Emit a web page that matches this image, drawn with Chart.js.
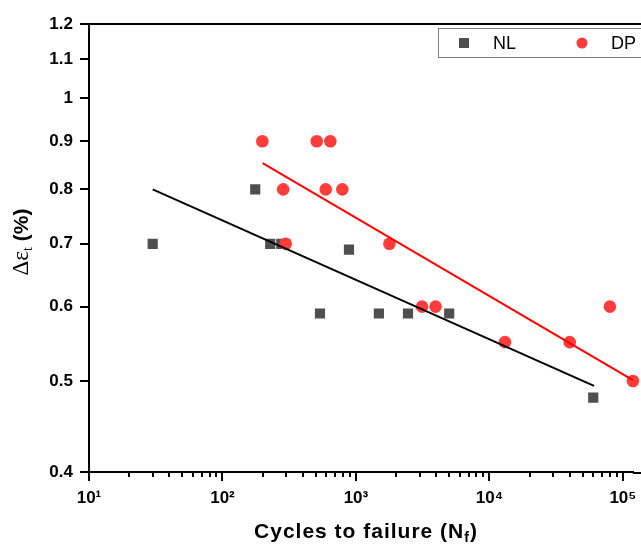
<!DOCTYPE html>
<html>
<head>
<meta charset="utf-8">
<script src="https://cdn.jsdelivr.net/npm/chart.js@4.4.0/dist/chart.umd.min.js"></script>
<style>
  html, body { margin: 0; padding: 0; background: #fff; }
  canvas { display: block; }
</style>
</head>
<body>
<canvas id="fatigueCanvas" width="641" height="545"></canvas>
<script>
// 資料 (讀自圖片)
const nlCycles = [30, 176, 228, 276, 538, 887, 1486, 2456, 5000, 60000];
const nlStrain = [0.70, 0.80, 0.70, 0.70, 0.59, 0.69, 0.59, 0.59, 0.59, 0.48];
const dpCycles = [199, 285, 298, 509, 594, 643, 791, 1783, 3128, 3953, 13090, 40000, 80000, 119000];
const dpStrain = [0.90, 0.80, 0.70, 0.90, 0.80, 0.90, 0.80, 0.70, 0.60, 0.60, 0.55, 0.55, 0.60, 0.50];

// 擬合直線的兩端點
const nlFitCycles = [30, 60800];
const nlFitStrain = [0.80, 0.494];
const dpFitCycles = [200, 119000];
const dpFitStrain = [0.853, 0.501];

// 刻度
const xMajorTicks = [10, 100, 1000, 10000, 100000];
const xTickLabels = ['10\u00B9', '10\u00B2', '10\u00B3', '10\u2074', '10\u2075'];
const yTickValues = [0.4, 0.5, 0.6, 0.7, 0.8, 0.9, 1.0, 1.1, 1.2];
const yTickLabels = ['0.4', '0.5', '0.6', '0.7', '0.8', '0.9', '1', '1.1', '1.2'];

const seriesNames = ['NL', 'DP'];
const nlColor = '#4f4f4f';
const dpColor = '#ff3c3c';

const toPoints = (xs, ys) => xs.map((x, i) => ({ x: x, y: ys[i] }));

// 次刻度 2..9 x 10^n
const xMinorTicks = [];
xMajorTicks.slice(0, -1).forEach(d => {
  for (let k = 2; k <= 9; k++) xMinorTicks.push(d * k);
});

// 坐標軸刻度線、上框線、軸標題、圖例
const decorPlugin = {
  id: 'decor',
  afterDraw(chart) {
    const ctx = chart.ctx;
    const area = chart.chartArea;
    const xs = chart.scales.x;
    const ys = chart.scales.y;
    ctx.save();
    ctx.strokeStyle = '#000';
    ctx.lineWidth = 2;
    ctx.beginPath();
    xs.ticks.forEach(t => {
      const px = Math.round(xs.getPixelForValue(t.value));
      const len = xMajorTicks.includes(t.value) ? 9 : 5;
      ctx.moveTo(px, area.bottom);
      ctx.lineTo(px, area.bottom + len);
    });
    ys.ticks.forEach(t => {
      const py = Math.round(ys.getPixelForValue(t.value));
      ctx.moveTo(area.left, py);
      ctx.lineTo(area.left - 9, py);
    });
    // 上框線，x 軸延伸到畫布邊緣
    ctx.moveTo(area.left - 1, area.top);
    ctx.lineTo(chart.width, area.top);
    ctx.moveTo(area.right - 1, area.bottom + 1);
    ctx.lineTo(chart.width, area.bottom + 1);
    ctx.stroke();

    // x 軸標題
    ctx.fillStyle = '#000';
    ctx.textBaseline = 'alphabetic';
    ctx.textAlign = 'left';
    const mainFont = 'bold 21px "Liberation Sans", Arial, sans-serif';
    const subFont = 'bold 14px "Liberation Sans", Arial, sans-serif';
    ctx.letterSpacing = '1px';
    ctx.font = mainFont;
    const p1 = 'Cycles to failure (N';
    const w1 = ctx.measureText(p1).width;
    const w3 = ctx.measureText(')').width;
    ctx.font = subFont;
    const w2 = ctx.measureText('f').width;
    let x0 = 366 - (w1 + w2 + w3) / 2;
    const by = 538;
    ctx.font = mainFont;
    ctx.fillText(p1, x0, by);
    ctx.font = subFont;
    ctx.fillText('f', x0 + w1, by + 4);
    ctx.font = mainFont;
    ctx.fillText(')', x0 + w1 + w2, by);
    ctx.letterSpacing = '0px';

    // y 軸標題
    ctx.save();
    ctx.translate(28, 242);
    ctx.rotate(-Math.PI / 2);
    const serif = '23px "Liberation Serif", "Times New Roman", serif';
    const serifSub = '14px "Liberation Serif", "Times New Roman", serif';
    ctx.font = serif;
    const a1 = ctx.measureText('\u0394\u03B5').width;
    ctx.font = serifSub;
    const a2 = ctx.measureText('t').width;
    ctx.font = mainFont;
    const a3 = ctx.measureText(' (%)').width;
    let sx = -(a1 + a2 + a3) / 2;
    ctx.font = serif;
    ctx.fillText('\u0394\u03B5', sx, 0);
    ctx.font = serifSub;
    ctx.fillText('t', sx + a1, 4);
    ctx.font = mainFont;
    ctx.fillText(' (%)', sx + a1 + a2, 0);
    ctx.restore();

    // 圖例
    ctx.lineWidth = 1;
    ctx.strokeStyle = '#7f7f7f';
    ctx.fillStyle = '#fff';
    ctx.fillRect(438.5, 28.5, 210, 29);
    ctx.strokeRect(438.5, 28.5, 210, 29);
    ctx.fillStyle = nlColor;
    ctx.fillRect(459, 38, 10, 10);
    ctx.fillStyle = dpColor;
    ctx.beginPath();
    ctx.arc(582, 43, 5.5, 0, Math.PI * 2);
    ctx.fill();
    ctx.fillStyle = '#000';
    ctx.font = '18px "Liberation Sans", Arial, sans-serif';
    ctx.textBaseline = 'middle';
    ctx.fillText(seriesNames[0], 493, 44);
    ctx.fillText(seriesNames[1], 611, 44);
    ctx.restore();
  }
};

var ctx = document.getElementById('fatigueCanvas').getContext('2d');
var chart = new Chart(ctx, {
  type: 'scatter',
  data: {
    datasets: [
      {
        label: 'NL fit',
        data: toPoints(nlFitCycles, nlFitStrain),
        showLine: true,
        borderColor: '#000',
        borderWidth: 2,
        pointRadius: 0,
        order: 0
      },
      {
        label: 'DP fit',
        data: toPoints(dpFitCycles, dpFitStrain),
        showLine: true,
        borderColor: '#ff0000',
        borderWidth: 2,
        pointRadius: 0,
        clip: false,
        order: 0
      },
      {
        label: seriesNames[1],
        data: toPoints(dpCycles, dpStrain),
        pointStyle: 'circle',
        pointRadius: 6.3,
        pointBorderWidth: 0,
        backgroundColor: dpColor,
        borderColor: dpColor,
        clip: false,
        order: 1
      },
      {
        label: seriesNames[0],
        data: toPoints(nlCycles, nlStrain),
        pointStyle: 'rect',
        pointRadius: 7.2,
        pointBorderWidth: 0,
        backgroundColor: nlColor,
        borderColor: nlColor,
        order: 2
      }
    ]
  },
  options: {
    responsive: false,
    animation: false,
    layout: { padding: { top: 24, right: 0, bottom: 0, left: 0 } },
    plugins: {
      legend: { display: false },
      tooltip: { enabled: false },
      title: { display: false }
    },
    scales: {
      x: {
        type: 'logarithmic',
        min: 10,
        max: 120800,
        afterFit: scale => {
          scale.height = 73;
          scale.paddingLeft = 0;
          scale.paddingRight = 0;
        },
        afterBuildTicks: scale => {
          scale.ticks = xMajorTicks.concat(xMinorTicks)
            .sort((a, b) => a - b)
            .map(v => ({ value: v, major: xMajorTicks.includes(v) }));
        },
        grid: { display: true, drawOnChartArea: false, drawTicks: false },
        border: { display: true, color: '#000', width: 2 },
        ticks: {
          autoSkip: false,
          maxRotation: 0,
          padding: 16,
          color: '#000',
          font: { family: '"Liberation Sans", Arial, sans-serif', size: 17, weight: 'bold' },
          callback: value => {
            const i = xMajorTicks.indexOf(value);
            return i >= 0 ? xTickLabels[i] : '';
          }
        }
      },
      y: {
        type: 'logarithmic',
        min: 0.4,
        max: 1.2,
        afterFit: scale => {
          scale.width = 89;
          scale.paddingTop = 0;
          scale.paddingBottom = 0;
        },
        afterBuildTicks: scale => {
          scale.ticks = yTickValues.map(v => ({ value: v }));
        },
        grid: { display: true, drawOnChartArea: false, drawTicks: false },
        border: { display: true, color: '#000', width: 2 },
        ticks: {
          autoSkip: false,
          padding: 16,
          color: '#000',
          font: { family: '"Liberation Sans", Arial, sans-serif', size: 17, weight: 'bold' },
          callback: value => {
            const i = yTickValues.findIndex(v => Math.abs(v - value) < 1e-9);
            return i >= 0 ? yTickLabels[i] : '';
          }
        }
      }
    }
  },
  plugins: [decorPlugin]
});
</script>
</body>
</html>
